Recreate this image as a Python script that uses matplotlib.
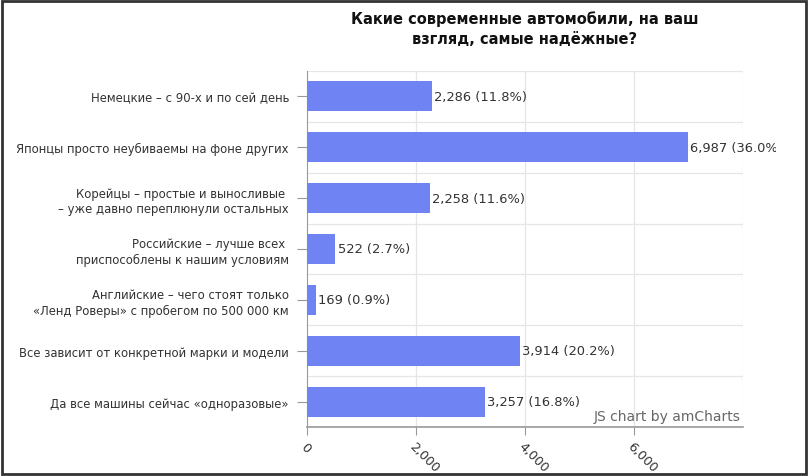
import matplotlib

matplotlib.use("Agg")
import matplotlib.pyplot as plt
from matplotlib.patches import Rectangle
from matplotlib.ticker import FuncFormatter

plt.rcParams["font.family"] = ["DejaVu Sans"]

TITLE = "Какие современные автомобили, на ваш\nвзгляд, самые надёжные?"
categories = [
    "Немецкие – с 90-х и по сей день",
    "Японцы просто неубиваемы на фоне других",
    "Корейцы – простые и выносливые \n– уже давно переплюнули остальных",
    "Российские – лучше всех \nприспособлены к нашим условиям",
    "Английские – чего стоят только\n«Ленд Роверы» с пробегом по 500 000 км",
    "Все зависит от конкретной марки и модели",
    "Да все машины сейчас «одноразовые»",
]
votes = [2286, 6987, 2258, 522, 169, 3914, 3257]
x_ticks = [0, 2000, 4000, 6000]

BAR = "#6f84f2"
TXT = "#333333"
GRID = "#e6e6e6"

fig = plt.figure(figsize=(8.10, 4.77), dpi=100)
ax = fig.add_axes([307 / 810, 1 - 428 / 477, 436 / 810, 356 / 477])

total = sum(votes)
ypos = list(range(len(categories)))
ax.barh(ypos, votes, height=0.59, color=BAR, zorder=3)
ax.set_ylim(len(categories) - 0.5, -0.5)
ax.set_xlim(0, 8000)

for y, v in zip(ypos, votes):
    ax.text(v + 40, y, f"{v:,} ({v / total * 100:.1f}%)", va="center",
            ha="left", fontsize=9.4, color=TXT, zorder=4)

ax.set_yticks(ypos)
ax.set_yticklabels(categories, fontsize=8.4, color=TXT, linespacing=1.25)
ax.set_xticks(x_ticks)
ax.xaxis.set_major_formatter(FuncFormatter(lambda v, _: f"{int(v):,}"))
for lbl in ax.get_xticklabels():
    lbl.set_rotation(-45)
    lbl.set_ha("left")
    lbl.set_va("top")
    lbl.set_rotation_mode("anchor")
    lbl.set_fontsize(9.2)
    lbl.set_color(TXT)

ax.tick_params(axis="y", length=7, color="#999999", pad=6)
ax.tick_params(axis="x", length=6, color="#999999", pad=3)

# grid: vertical at value ticks, horizontal between categories
for xv in [2000, 4000, 6000, 8000]:
    ax.axvline(xv, color=GRID, lw=0.9, zorder=1)
for yb in [i - 0.5 for i in range(len(categories) + 1)]:
    ax.axhline(yb, color=GRID, lw=0.9, zorder=1)

for side in ["top", "right"]:
    ax.spines[side].set_visible(False)
ax.spines["left"].set_color("#999999")
ax.spines["bottom"].set_color("#999999")
ax.spines["bottom"].set_linewidth(1.2)

fig.text((307 + 743) / 2 / 810, 1 - 11 / 477, TITLE,
         ha="center", va="top", fontsize=10.5, fontweight="bold",
         color="#111111", linespacing=1.45)
ax.text(0.995, 0.012, "JS chart by amCharts", transform=ax.transAxes,
        ha="right", va="bottom", fontsize=10, color="#666666", zorder=5)

# the container cuts the longest label off on the right
fig.add_artist(Rectangle((776 / 810, 0.01), 28 / 810, 0.98,
                         transform=fig.transFigure, facecolor="white",
                         edgecolor="none", zorder=10))
# dark frame round the picture
fig.add_artist(Rectangle((0.002, 0.004), 0.993, 0.992, transform=fig.transFigure,
                         fill=False, edgecolor="#333333", lw=2, zorder=11))

fig.savefig("out.png", dpi=100)
